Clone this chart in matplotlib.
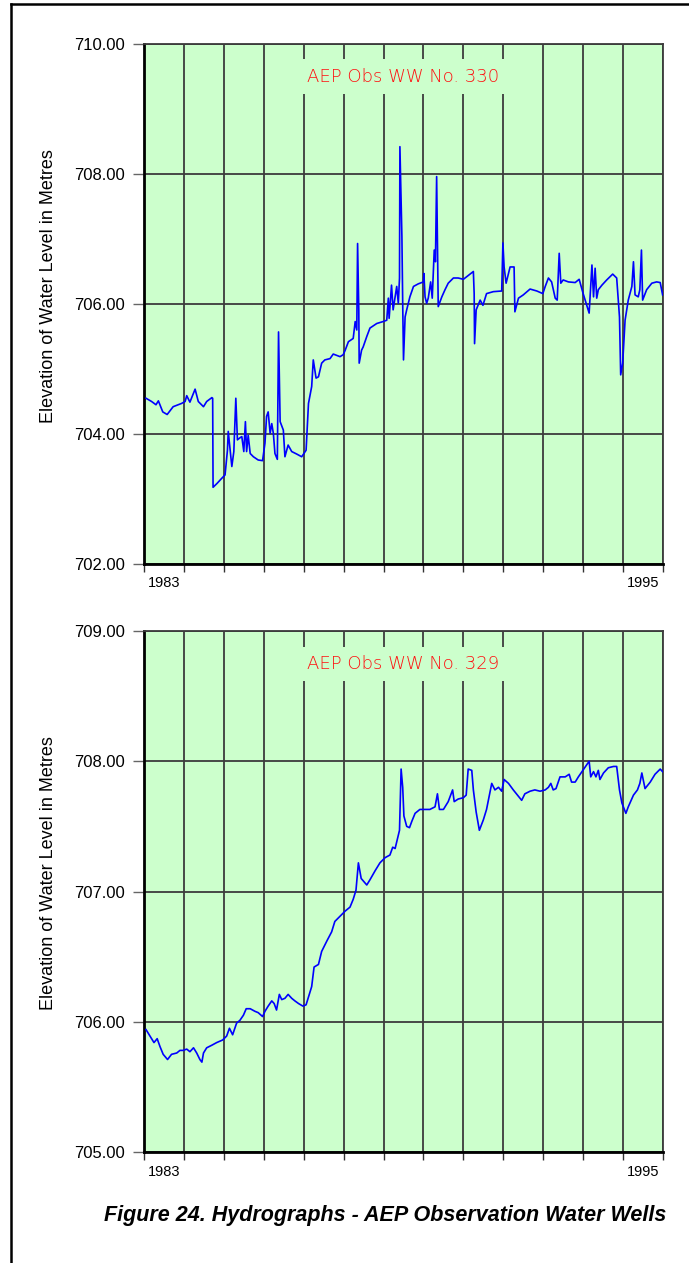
import matplotlib.pyplot as plt
from matplotlib.lines import Line2D

plt.rcParams['font.family'] = ['Liberation Sans', 'DejaVu Sans']

# --- AEP Obs WW No. 330 (decimal year, elevation m) ---
ww330_year = [1983.05, 1983.19, 1983.30, 1983.36, 1983.47, 1983.58, 1983.73, 1983.94,
              1984.03, 1984.07, 1984.15, 1984.28, 1984.36, 1984.49, 1984.57, 1984.70,
              1984.72, 1984.73, 1984.83, 1984.95, 1985.03, 1985.09, 1985.11, 1985.15,
              1985.20, 1985.25, 1985.30, 1985.34, 1985.40, 1985.45, 1985.50, 1985.54,
              1985.57, 1985.61, 1985.66, 1985.74, 1985.86, 1985.97, 1986.03, 1986.07,
              1986.11, 1986.16, 1986.20, 1986.24, 1986.28, 1986.34, 1986.37, 1986.41,
              1986.49, 1986.53, 1986.61, 1986.70, 1986.83, 1986.95, 1987.06, 1987.12,
              1987.20, 1987.24, 1987.31, 1987.37, 1987.45, 1987.53, 1987.66, 1987.74,
              1987.91, 1987.99, 1988.04, 1988.12, 1988.24, 1988.29, 1988.33, 1988.35,
              1988.38, 1988.39, 1988.45, 1988.49, 1988.58, 1988.66, 1988.83, 1988.99,
              1989.08, 1989.12, 1989.14, 1989.20, 1989.24, 1989.29, 1989.33, 1989.37,
              1989.40, 1989.41, 1989.46, 1989.48, 1989.50, 1989.54, 1989.58, 1989.66,
              1989.75, 1989.87, 1990.00, 1990.01, 1990.04, 1990.08, 1990.12, 1990.18,
              1990.22, 1990.27, 1990.30, 1990.33, 1990.36, 1990.37, 1990.40, 1990.46,
              1990.54, 1990.62, 1990.75, 1990.87, 1991.00, 1991.25, 1991.27, 1991.28,
              1991.32, 1991.42, 1991.49, 1991.58, 1991.75, 1991.96, 1991.99, 1992.02,
              1992.07, 1992.17, 1992.27, 1992.29, 1992.38, 1992.50, 1992.67, 1992.84,
              1992.99, 1993.05, 1993.13, 1993.21, 1993.30, 1993.35, 1993.40, 1993.44,
              1993.50, 1993.63, 1993.80, 1993.90, 1994.00, 1994.15, 1994.22, 1994.26,
              1994.30, 1994.34, 1994.38, 1994.47, 1994.59, 1994.74, 1994.84, 1994.91,
              1994.94, 1994.99, 1995.05, 1995.13, 1995.22, 1995.26, 1995.30, 1995.38,
              1995.42, 1995.46, 1995.49, 1995.59, 1995.72, 1995.84, 1995.93, 1995.99]
ww330_level = [704.55, 704.50, 704.45, 704.51, 704.34, 704.30, 704.42, 704.47,
               704.50, 704.59, 704.49, 704.69, 704.50, 704.42, 704.50, 704.56,
               704.55, 703.18, 703.24, 703.32, 703.37, 703.75, 704.04, 703.80,
               703.50, 703.73, 704.55, 703.91, 703.94, 703.96, 703.73, 704.19,
               703.73, 703.98, 703.70, 703.65, 703.60, 703.59, 703.86, 704.27,
               704.34, 704.01, 704.16, 704.01, 703.70, 703.61, 705.57, 704.19,
               704.06, 703.65, 703.83, 703.73, 703.69, 703.65, 703.75, 704.47,
               704.73, 705.14, 704.86, 704.88, 705.09, 705.14, 705.16, 705.23,
               705.19, 705.22, 705.29, 705.42, 705.47, 705.73, 705.60, 706.93,
               705.91, 705.09, 705.29, 705.34, 705.50, 705.63, 705.70, 705.73,
               705.75, 706.09, 705.78, 706.29, 705.91, 706.11, 706.27, 706.01,
               706.40, 708.42, 707.04, 706.01, 705.14, 705.80, 705.91, 706.11,
               706.27, 706.31, 706.34, 706.47, 706.11, 706.01, 706.09, 706.34,
               706.09, 706.83, 706.65, 707.96, 706.52, 705.96, 706.01, 706.11,
               706.22, 706.32, 706.40, 706.40, 706.38, 706.50, 706.16, 705.39,
               705.91, 706.06, 705.98, 706.16, 706.19, 706.20, 706.94, 706.57,
               706.32, 706.57, 706.57, 705.88, 706.09, 706.14, 706.23, 706.20,
               706.16, 706.27, 706.40, 706.34, 706.09, 706.06, 706.78, 706.32,
               706.37, 706.34, 706.33, 706.38, 706.16, 705.86, 706.60, 706.11,
               706.55, 706.09, 706.22, 706.29, 706.37, 706.46, 706.40, 705.80,
               704.91, 705.09, 705.75, 706.06, 706.27, 706.65, 706.14, 706.11,
               706.22, 706.83, 706.06, 706.22, 706.32, 706.34, 706.33, 706.14]

# --- AEP Obs WW No. 329 ---
ww329_year = [1983.05, 1983.15, 1983.25, 1983.33, 1983.40, 1983.48, 1983.59, 1983.69,
              1983.82, 1983.90, 1983.98, 1984.07, 1984.15, 1984.24, 1984.32, 1984.40,
              1984.45, 1984.49, 1984.57, 1984.70, 1984.82, 1984.97, 1985.07, 1985.14,
              1985.22, 1985.32, 1985.40, 1985.49, 1985.56, 1985.66, 1985.78, 1985.86,
              1985.97, 1986.03, 1986.11, 1986.20, 1986.26, 1986.32, 1986.39, 1986.45,
              1986.53, 1986.61, 1986.70, 1986.78, 1986.87, 1986.98, 1987.06, 1987.12,
              1987.20, 1987.26, 1987.37, 1987.45, 1987.58, 1987.70, 1987.78, 1987.91,
              1988.04, 1988.16, 1988.24, 1988.31, 1988.37, 1988.44, 1988.58, 1988.66,
              1988.79, 1988.91, 1989.04, 1989.16, 1989.23, 1989.29, 1989.37, 1989.40,
              1989.44, 1989.48, 1989.51, 1989.58, 1989.65, 1989.71, 1989.79, 1989.91,
              1990.04, 1990.16, 1990.29, 1990.35, 1990.40, 1990.50, 1990.62, 1990.73,
              1990.77, 1990.87, 1991.00, 1991.07, 1991.12, 1991.21, 1991.25, 1991.32,
              1991.40, 1991.50, 1991.58, 1991.65, 1991.71, 1991.79, 1991.88, 1991.96,
              1992.02, 1992.13, 1992.25, 1992.38, 1992.46, 1992.54, 1992.67, 1992.79,
              1992.92, 1993.05, 1993.13, 1993.19, 1993.25, 1993.32, 1993.42, 1993.55,
              1993.65, 1993.71, 1993.80, 1993.88, 1994.15, 1994.19, 1994.26, 1994.32,
              1994.38, 1994.42, 1994.51, 1994.63, 1994.76, 1994.84, 1994.91, 1994.97,
              1995.07, 1995.13, 1995.26, 1995.36, 1995.42, 1995.47, 1995.55, 1995.68,
              1995.80, 1995.93, 1995.99]
ww329_level = [705.94, 705.89, 705.84, 705.87, 705.81, 705.75, 705.71, 705.75,
               705.76, 705.78, 705.78, 705.79, 705.77, 705.80, 705.76, 705.71,
               705.69, 705.76, 705.80, 705.82, 705.84, 705.86, 705.89, 705.95,
               705.90, 705.99, 706.01, 706.05, 706.10, 706.10, 706.08, 706.07,
               706.04, 706.08, 706.12, 706.16, 706.14, 706.09, 706.21, 706.17,
               706.18, 706.21, 706.18, 706.16, 706.14, 706.12, 706.13, 706.19,
               706.27, 706.42, 706.44, 706.54, 706.62, 706.69, 706.77, 706.81,
               706.85, 706.88, 706.94, 707.01, 707.22, 707.10, 707.05, 707.09,
               707.16, 707.22, 707.26, 707.28, 707.34, 707.33, 707.43, 707.47,
               707.94, 707.80, 707.58, 707.50, 707.49, 707.54, 707.60, 707.63,
               707.63, 707.63, 707.65, 707.75, 707.63, 707.63, 707.69, 707.78,
               707.69, 707.71, 707.72, 707.74, 707.94, 707.93, 707.78, 707.61,
               707.47, 707.55, 707.63, 707.74, 707.83, 707.78, 707.80, 707.77,
               707.86, 707.83, 707.78, 707.73, 707.70, 707.75, 707.77, 707.78,
               707.77, 707.78, 707.80, 707.83, 707.78, 707.79, 707.88, 707.88,
               707.90, 707.84, 707.84, 707.88, 708.00, 707.88, 707.92, 707.88,
               707.93, 707.86, 707.91, 707.95, 707.96, 707.96, 707.78, 707.68,
               707.60, 707.65, 707.74, 707.78, 707.83, 707.91, 707.79, 707.84,
               707.90, 707.94, 707.92]

year_ticks = list(range(1983, 1997))
year_labels = ['1983', '1995']
ylabel = 'Elevation of Water Level in Metres'

BG = '#ccffcc'
GRID = '#3c3c3c'

fig = plt.figure(figsize=(6.89, 12.63), dpi=100)


def panel(rect, years, levels, ylim, yticks, title):
    ax = fig.add_axes(rect)
    ax.set_facecolor(BG)
    ax.plot(years, levels, color='#0000ff', lw=1.2, zorder=3)
    ax.set_xlim(1983, 1996)
    ax.set_ylim(*ylim)
    ax.set_xticks(year_ticks)
    ax.set_xticklabels([])
    ax.set_xticks([1983.5, 1995.5], minor=True)
    ax.set_xticklabels(year_labels, minor=True, fontsize=10.5)
    ax.tick_params(axis='x', which='minor', length=0, pad=9)
    ax.tick_params(axis='x', which='major', length=6, width=1, color='#333333')
    ax.set_yticks(yticks)
    ax.set_yticklabels(['%.2f' % v for v in yticks], fontsize=12)
    ax.tick_params(axis='y', length=8, width=1, color='#666666', pad=6)
    ax.grid(True, which='major', color=GRID, lw=1.3, zorder=1)
    ax.set_axisbelow(True)
    for s in ['left', 'bottom']:
        ax.spines[s].set_linewidth(2)
        ax.spines[s].set_color('black')
    for s in ['top', 'right']:
        ax.spines[s].set_linewidth(1.3)
        ax.spines[s].set_color(GRID)
    ax.text(0.5, 0.937, title, transform=ax.transAxes, ha='center', va='center',
            color='#ff1010', fontsize=13, family=['DejaVu Sans'], fontweight='light',
            bbox=dict(facecolor=BG, edgecolor='none', pad=6), zorder=4)
    ax.set_ylabel(ylabel, fontsize=13)
    ax.yaxis.set_label_coords(-0.168, 0.535)
    return ax


panel([144 / 689, 1 - 564 / 1263, 519 / 689, 520 / 1263],
      ww330_year, ww330_level, (702, 710), [702, 704, 706, 708, 710],
      'AEP Obs WW No. 330')
panel([144 / 689, 1 - 1152 / 1263, 519 / 689, 521 / 1263],
      ww329_year, ww329_level, (705, 709), [705, 706, 707, 708, 709],
      'AEP Obs WW No. 329')

fig.text(385 / 689, 1 - 1215 / 1263,
         'Figure 24. Hydrographs - AEP Observation Water Wells',
         ha='center', va='center', fontsize=15.5, fontweight='bold', style='italic')

# page frame
fig.add_artist(Line2D([11 / 689, 11 / 689], [0, 1 - 4 / 1263], color='black', lw=1.8))
fig.add_artist(Line2D([11 / 689, 1], [1 - 4 / 1263, 1 - 4 / 1263], color='black', lw=1.8))

fig.savefig('out.png', dpi=100)
